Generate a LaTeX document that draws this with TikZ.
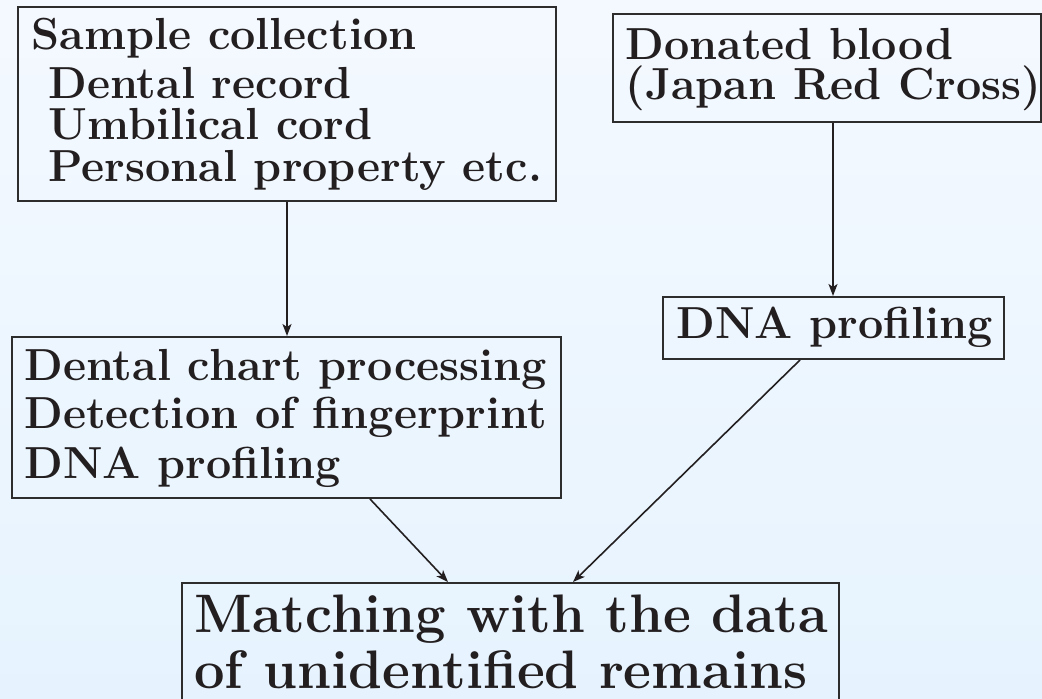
\documentclass[tikz,border=0pt]{standalone}
\usepackage{fontspec}
\setmainfont{Latin Modern Roman}
\usetikzlibrary{arrows.meta}
\definecolor{bgtop}{RGB}{244,249,255}
\definecolor{bgbot}{RGB}{230,243,254}
\definecolor{ink}{RGB}{35,31,32}
\definecolor{frame}{RGB}{45,45,45}
\tikzset{
  box/.style={draw=frame, line width=1pt, inner sep=0pt, rectangle},
  txt/.style={anchor=base west, inner sep=0pt, text=ink, font=\fontsize{22.45}{24}\selectfont\bfseries},
  bigtxt/.style={anchor=base west, inner sep=0pt, text=ink, font=\fontsize{27.1}{29}\selectfont\bfseries},
  arr/.style={draw=ink, line width=0.8pt, -{Stealth[length=6pt,width=4.5pt,inset=1.5pt]}}
}
\begin{document}
\begin{tikzpicture}[x=0.5pt,y=-0.5pt]
\useasboundingbox (0,0) rectangle (1042,699);
\shade[top color=bgtop, bottom color=bgbot] (0,0) rectangle (1042,699);
\begin{scope}
\clip (0,0) rectangle (1042,699);
% boxes
\node[box, minimum width=269pt, minimum height=97pt] (b1) at (287,104) {};
\node[box, minimum width=214pt, minimum height=54pt] (b2) at (827,68) {};
\node[box, minimum width=274.5pt, minimum height=80.5pt] (b3) at (286.5,417.5) {};
\node[box, minimum width=170.5pt, minimum height=31pt] (b4) at (833.5,328) {};
\node[box, minimum width=328.5pt, minimum height=68.5pt] (b5) at (510.5,651.5) {};
% texts
\node[txt] (t11) at (31,50) {Sample collection};
\node[txt] (t12) at (48,99) {Dental record};
\node[txt] (t13) at (48,140) {Umbilical cord};
\node[txt] (t14) at (48,182) {Personal property etc.};
\node[txt] (t21) at (625,60) {Donated blood};
\node[txt] (t22) at (625,100) {(Japan Red Cross)};
\node[txt] (t31) at (24,380) {Dental chart processing};
\node[txt] (t32) at (24,429) {Detection of fingerprint};
\node[txt] (t33) at (24,478) {DNA profiling};
\node[txt] (t41) at (676,339) {DNA profiling};
\node[bigtxt] (t51) at (194,632) {Matching with the data};
\node[bigtxt] (t52) at (194,688) {of unidentified remains};
% arrows
\draw[arr] (b1.south -| 287,0) -- (b3.north -| 287,0);
\draw[arr] (b2.south -| 833,0) -- (b4.north -| 833,0);
\draw[arr] (b3.south -| 370,0) -- (b5.north -| 448,0);
\draw[arr] (b4.south -| 800,0) -- (b5.north -| 573,0);
\end{scope}
\end{tikzpicture}
\end{document}
